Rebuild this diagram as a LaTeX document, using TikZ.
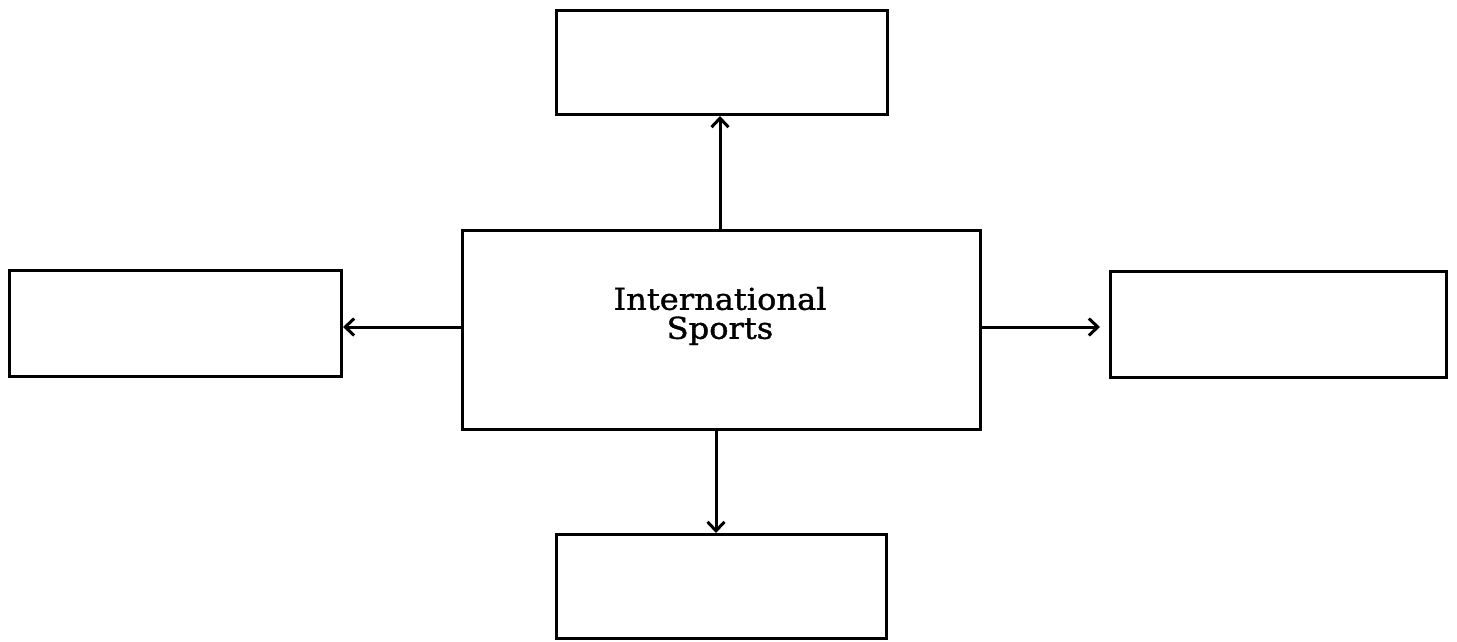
\documentclass[tikz,border=0pt]{standalone}
\usepackage{fontspec}
\setmainfont[FakeStretch=1.07,FakeBold=1.2]{DejaVu Serif}
\usetikzlibrary{arrows.meta}
\begin{document}
\begin{tikzpicture}[x=1pt,y=-1pt,
  box/.style={draw=black,line width=3pt,fill=none,inner sep=0pt,anchor=north west},
  conn/.style={draw=black,line width=3pt,-{Straight Barb[length=9pt,width=17pt,line width=3pt]}}]
\useasboundingbox (0,0) rectangle (1457,641);
\fill[white] (0,0) rectangle (1457,641);
\node[box,minimum width=518pt,minimum height=199pt] (c) at (461,229) {};
\node[align=center,inner sep=0pt,font={\fontsize{30}{29}\selectfont}] (ct) at (720,316) {International\\Sports};
\node[box,minimum width=332pt,minimum height=106pt] (l) at (8,269) {};
\node[box,minimum width=336pt,minimum height=106pt] (r) at (1109,270) {};
\node[box,minimum width=331pt,minimum height=104pt] (t) at (555,9) {};
\node[box,minimum width=330pt,minimum height=104pt] (b) at (555,533) {};
\draw[conn] (c.north -| 720,0) -- (t.south -| 720,0);
\draw[conn] (c.south -| 716,0) -- (b.north -| 716,0);
\draw[conn] (c.west |- 0,327) -- (l.east |- 0,327);
\coordinate (rend) at (1100,327);
\draw[conn] (c.east |- 0,327) -- (rend);
\end{tikzpicture}
\end{document}
